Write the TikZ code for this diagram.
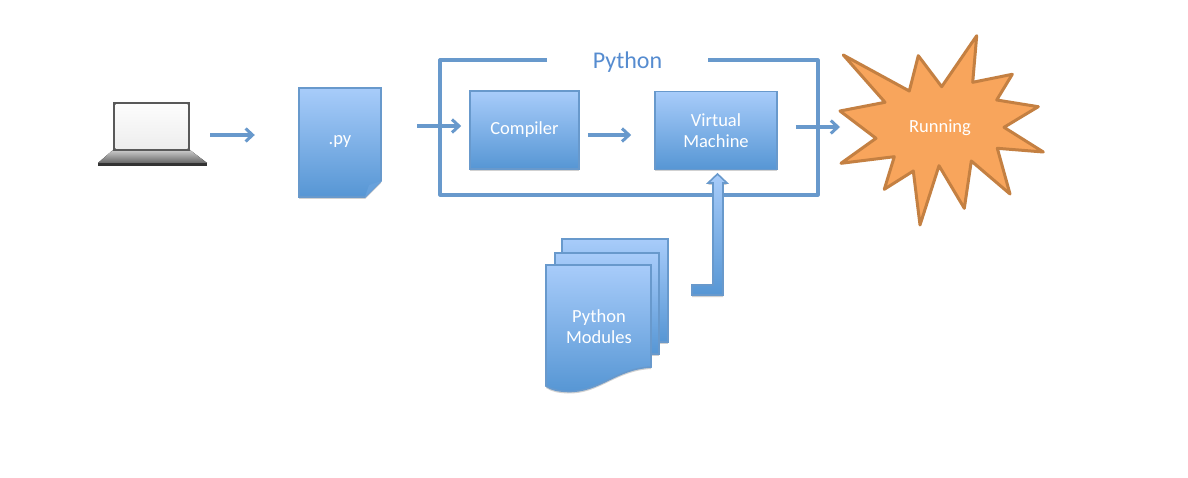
\documentclass[tikz,border=0pt]{standalone}
\usepackage{fontspec}
\setmainfont{Carlito}
\usetikzlibrary{arrows.meta,shadows}
\definecolor{bluetop}{RGB}{168,204,250}
\definecolor{bluebot}{RGB}{86,150,212}
\definecolor{blueline}{RGB}{104,153,204}
\definecolor{titleblue}{RGB}{86,140,208}
\definecolor{burstfill}{RGB}{248,165,92}
\definecolor{burstline}{RGB}{196,128,66}
\tikzset{
    softshadow/.style={drop shadow={shadow xshift=0pt,shadow yshift=-2pt,opacity=0.18,fill=black}},
    bluefill/.style={top color=bluetop,bottom color=bluebot,draw=blueline,line width=1.6pt,softshadow},
    stagebox/.style={bluefill,rectangle,text=white,font=\fontsize{18.5}{21}\selectfont,align=center,inner sep=0pt},
    plainlabel/.style={text=white,font=\fontsize{18.5}{21}\selectfont,align=center,inner sep=0pt},
    flowarrow/.style={draw=blueline,line width=3.4pt,-{Straight Barb[length=7pt,width=13pt,line width=3pt]}}
}

\begin{document}
\begin{tikzpicture}[x=1pt,y=-1pt]
    \useasboundingbox (0,0) rectangle (1188,478);
    \fill [white] (0,0) rectangle (1188,478);

    % laptop
    \fill [top color=black!20,bottom color=black!60] (113,150) -- (190,150) -- (207,163) -- (98,163) -- cycle;
    \fill [black!80] (98,163) rectangle (207,166);
    \fill [black!65] (113,102) rectangle (190,151);
    \fill [top color=black!1,bottom color=black!7] (115.5,105) rectangle (187.5,148.5);
    \node [minimum width=109pt,minimum height=64pt,inner sep=0pt] (laptop) at (152.5,134) {};

    % source file
    \path [bluefill] (299,88) -- (381,88) -- (381,181) -- (365,197) -- (299,197) -- cycle;
    \fill [bluebot!80!bluetop] (365,197) -- (369,185) -- (381,181) -- cycle;
    \node [plainlabel,minimum width=82pt,minimum height=109pt] (pydoc) at (340,142.5) {};
    \node [plainlabel] (pylabel) at (340,141) {.py};

    % interpreter frame
    \draw [blueline,line width=3.2pt,line join=round] (547,60) -- (440,60) -- (440,195) -- (818,195) -- (818,60) -- (708,60);
    \node [text=titleblue,font=\fontsize{24}{28}\selectfont,inner sep=0pt] (pythonlabel) at (627.5,62) {Python};

    \node [stagebox,minimum width=109pt,minimum height=78pt] (compiler) at (524.5,130) {\raisebox{-2.5pt}{Compiler}};
    \node [stagebox,minimum width=122pt,minimum height=78pt] (machine) at (716,130.5) {Virtual\\Machine};

    % modules, back to front
    \path [bluefill] (562,239) rectangle (668,342);
    \path [bluefill] (555,253) rectangle (659,354);
    \path [bluefill] (546,265) -- (651,265) -- (651,367)
        .. controls (615,369) and (600,392) .. (568,391.5)
        .. controls (558,391) and (552,390) .. (546,386) -- cycle;
    \node [plainlabel,minimum width=105pt,minimum height=126pt] (modules) at (598.5,328) {};
    \node [plainlabel] (moduleslabel) at (599,326.5) {Python\\Modules};

    % import arrow
    \path [bluefill] (692,285) -- (713,285) -- (713,183) -- (708,183) -- (717.5,174)
        -- (727,183) -- (723,183) -- (723,295) -- (692,295) -- cycle;

    % burst
    \path [fill=burstfill,draw=burstline,line width=3pt,line join=round]
        (843.3,55) -- (909.3,91) -- (918.3,55.7) -- (941.7,86.7) -- (976.7,35.7) -- (972.7,82.3)
        -- (1012.3,74.3) -- (996.7,100) -- (1038.3,106.7) -- (1004,127.3) -- (1043.3,152)
        -- (997.3,148.3) -- (1010,194) -- (971.3,161) -- (964.3,208.3) -- (939,165.7)
        -- (920,225) -- (913.3,171) -- (884.3,189.3) -- (894.3,156.7) -- (841,163.3)
        -- (876,138.3) -- (840,111) -- (885,102.3) -- cycle;
    \node [plainlabel] (running) at (940,128) {Running};
    \coordinate (burstin) at (840,127);

    \draw [flowarrow,shorten <=3pt,shorten >=44pt] (laptop.east |- 0,135) -- (pydoc.west |- 0,135);
    \draw [flowarrow,shorten <=36pt,shorten >=8pt] (pydoc.east |- 0,126) -- (compiler.west |- 0,126);
    \draw [flowarrow,shorten <=8pt,shorten >=23pt] (compiler.east |- 0,135) -- (machine.west |- 0,135);
    \draw [flowarrow,shorten <=18pt] (machine.east |- burstin) -- (burstin);
\end{tikzpicture}
\end{document}
